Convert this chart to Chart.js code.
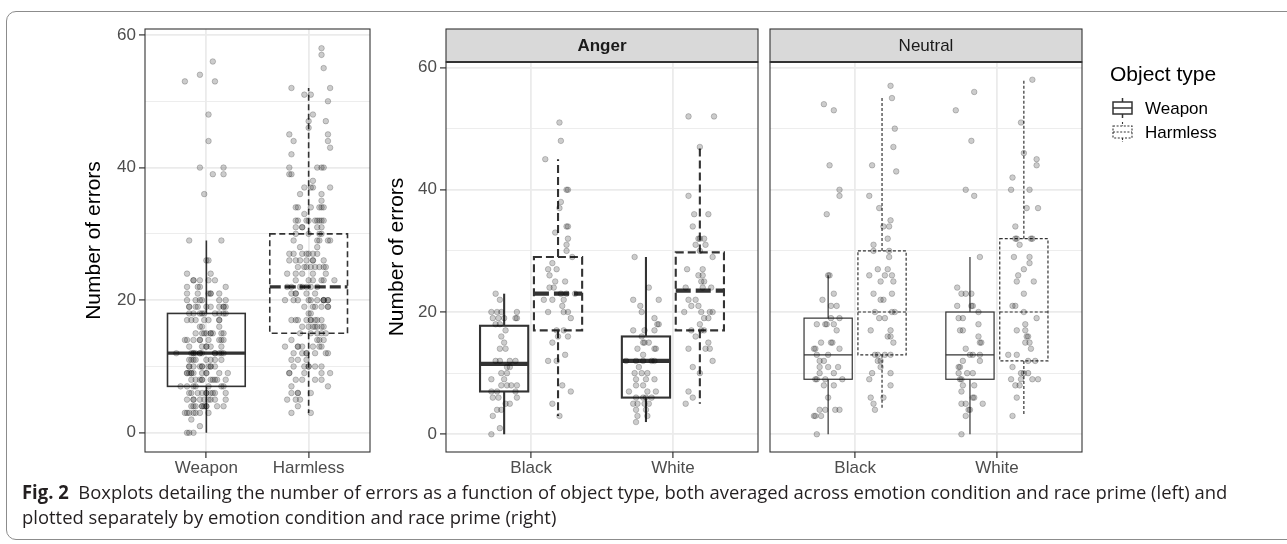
<!DOCTYPE html>
<html>
<head>
<meta charset="utf-8">
<title>Number of errors by object type</title>
<script src="https://cdn.jsdelivr.net/npm/chart.js@4.4.1/dist/chart.umd.min.js"></script>
<style>
  html, body { margin: 0; padding: 0; background: #fff; }
  body { position: relative; width: 1287px; height: 544px; overflow: hidden; }
  .frame { position: absolute; left: 6px; top: 11px; width: 1320px; height: 529px;
           border: 1px solid #8c8c8c; border-radius: 10px; box-sizing: border-box; }
  canvas { position: absolute; top: 0; }
  #caption { position: absolute; left: 22px; top: 480px; transform-origin: 0 0;
             font-family: "Open Sans", "Noto Sans", sans-serif; font-size: 19px;
             line-height: 25px; color: #231f20; white-space: nowrap; }
</style>
</head>
<body>
<div class="frame"></div>
<canvas id="pooled" width="380" height="480" style="left:0px"></canvas>
<canvas id="anger" width="384" height="480" style="left:380px"></canvas>
<canvas id="neutral" width="523" height="480" style="left:764px"></canvas>
<div id="caption">
  <div id="cap1"><b>Fig. 2</b>&nbsp; Boxplots detailing the number of errors as a function of object type, both averaged across emotion condition and race prime (left) and</div>
  <div>plotted separately by emotion condition and race prime (right)</div>
</div>
<script>
'use strict';

// categories
const objectTypes = ['Weapon', 'Harmless'];
const racePrimes = ['Black', 'White'];
const emotions = ['Anger', 'Neutral'];
const yTickValues = [0, 10, 20, 30, 40, 50, 60];

// errors per participant (read off the jittered points)
// jitter = horizontal offset of each point, in category units
const angerBlackWeapon = [23,22,20,20,20,20,19,19,19,19,19,18,18,17,16,15,14,14,12,12,12,12,11,11,10,10,9,9,8,8,8,8,7,7,7,6,6,6,5,5,4,4,3,1,0];
const angerBlackWeaponJitter = [-0.06,-0.03,-0.09,-0.05,-0.02,0.09,-0.08,-0.04,0.00,0.08,0.09,-0.06,-0.03,0.01,-0.02,0.00,-0.03,0.01,-0.06,-0.03,0.04,0.08,0.02,0.04,-0.02,0.02,-0.09,0.00,-0.02,0.02,0.05,0.09,-0.09,-0.05,0.08,-0.08,-0.04,0.09,0.01,0.04,-0.05,-0.02,-0.08,-0.03,-0.09];

const angerBlackHarmless = [51,48,45,40,40,38,37,34,34,33,32,31,29,28,27,27,25,25,24,24,23,23,23,22,22,22,21,20,20,20,19,17,17,16,16,15,13,12,12,8,7,5,3,30,26];
const angerBlackHarmlessJitter = [0.01,0.02,-0.09,0.06,0.07,0.02,0.01,0.06,0.07,-0.02,0.07,0.06,0.10,-0.04,-0.07,-0.01,0.05,-0.02,-0.06,-0.03,0.02,0.06,0.12,-0.10,-0.04,0.04,0.03,-0.07,0.04,0.07,0.09,-0.01,0.04,0.00,0.07,-0.04,0.05,-0.07,-0.01,0.03,0.09,-0.04,0.01,0.06,-0.06];

const angerWhiteWeapon = [29,24,22,22,21,20,19,18,18,17,17,17,16,15,15,15,14,14,14,13,12,12,12,12,12,11,10,10,10,9,9,9,8,8,7,7,7,6,6,6,6,5,5,5,5,4,4,3,3,2];
const angerWhiteWeaponJitter = [-0.08,0.02,-0.09,0.09,-0.04,-0.03,0.06,0.08,0.09,-0.09,-0.01,0.06,-0.03,-0.02,-0.01,0.02,-0.06,0.06,0.07,-0.02,-0.14,-0.07,-0.02,0.04,0.06,-0.05,-0.08,-0.03,0.01,-0.07,0.00,0.06,-0.07,-0.02,-0.12,0.01,0.07,-0.07,-0.02,0.00,0.04,-0.09,-0.06,-0.01,0.02,-0.07,0.00,-0.06,0.01,-0.07];

const angerWhiteHarmless = [52,52,47,39,36,36,34,32,32,32,31,31,30,29,27,27,26,26,25,25,24,24,24,22,22,21,21,20,20,20,20,19,19,18,17,17,17,16,15,14,14,14,12,11,10,7,6,5];
const angerWhiteHarmlessJitter = [-0.08,0.10,0.00,-0.08,-0.04,0.06,-0.05,-0.01,0.00,0.03,-0.03,0.04,0.00,0.09,-0.09,0.02,-0.01,0.02,0.01,0.03,-0.10,0.02,0.08,-0.08,-0.03,-0.06,-0.01,-0.11,0.01,0.07,0.09,0.03,0.06,0.00,-0.06,0.01,0.03,-0.03,0.06,-0.08,0.04,0.07,0.09,-0.05,0.00,-0.08,-0.05,-0.10];

const neutralBlackWeapon = [54,53,44,40,39,36,26,26,23,22,21,21,19,19,18,18,18,18,17,15,15,15,14,14,14,13,13,12,12,11,11,11,10,10,9,9,9,9,8,8,6,4,4,4,4,3,3,3,0];
const neutralBlackWeaponJitter = [-0.03,0.04,0.01,0.08,0.08,-0.01,0.00,0.01,0.04,-0.04,0.02,0.06,0.08,0.02,-0.08,-0.02,-0.01,0.04,0.06,-0.05,0.02,0.03,-0.10,-0.09,0.08,-0.08,0.00,-0.06,-0.03,-0.06,0.00,0.07,-0.06,0.04,-0.09,-0.08,-0.02,0.10,-0.03,0.04,0.00,-0.06,-0.02,0.05,0.08,-0.10,-0.09,-0.05,-0.08];

const neutralBlackHarmless = [57,55,50,47,44,43,39,37,35,34,34,32,31,30,30,29,27,27,26,26,26,25,25,23,23,22,22,20,20,20,19,19,17,17,16,16,15,13,13,13,13,12,12,11,10,10,9,8,6,6,5,4];
const neutralBlackHarmlessJitter = [0.06,0.07,0.09,0.08,-0.07,0.10,-0.09,-0.02,0.06,0.01,0.05,0.04,-0.06,-0.06,0.05,0.05,-0.03,0.04,-0.09,0.02,0.07,-0.01,0.08,-0.06,0.07,-0.01,0.01,-0.05,0.07,0.09,-0.02,0.02,-0.08,0.06,0.04,0.06,0.08,-0.05,-0.03,0.02,0.06,-0.03,-0.01,-0.01,-0.07,0.06,-0.09,0.06,-0.08,0.01,-0.06,-0.05];

const neutralWhiteWeapon = [56,53,48,40,39,29,24,23,23,23,21,21,21,20,19,19,18,17,17,16,15,15,14,13,13,13,12,12,11,11,10,10,10,9,9,8,8,7,6,6,5,5,5,4,4,3,0];
const neutralWhiteWeaponJitter = [0.03,-0.10,0.01,-0.03,0.03,0.07,-0.09,-0.06,-0.03,0.01,-0.09,0.01,0.02,0.06,-0.08,-0.05,0.06,-0.07,-0.05,0.06,0.07,0.08,-0.03,0.00,0.02,0.07,-0.05,0.07,-0.08,-0.07,-0.08,-0.02,0.02,-0.07,-0.06,-0.05,0.03,-0.06,0.02,0.03,-0.06,-0.03,0.09,-0.01,0.00,-0.03,-0.06];

const neutralWhiteHarmless = [58,51,46,45,44,42,40,40,37,37,34,32,32,32,32,31,29,29,28,27,26,25,25,23,21,21,20,19,18,17,17,16,16,15,15,14,13,13,12,12,11,10,10,10,9,9,9,9,8,8,6,3];
const neutralWhiteHarmlessJitter = [0.06,-0.02,0.00,0.09,0.09,-0.08,-0.09,0.04,0.02,0.10,-0.06,-0.06,-0.05,0.05,0.06,-0.03,-0.07,0.04,0.04,0.00,-0.04,-0.05,0.07,0.00,-0.08,-0.06,0.00,0.09,0.01,-0.05,0.01,0.02,0.03,0.01,0.04,0.05,-0.11,-0.05,0.03,0.08,-0.08,-0.02,0.00,0.03,-0.09,-0.02,0.06,0.10,-0.06,-0.03,-0.05,-0.08];

// box stats as drawn: [lower whisker, Q1, median, Q3, upper whisker]
const pooledWeaponBox = [0, 7, 12, 18, 29];
const pooledHarmlessBox = [3, 15, 22, 30, 52];
const angerBlackWeaponBox = [0, 7, 11.5, 17.75, 23];
const angerBlackHarmlessBox = [3, 17, 23, 29, 45];
const angerWhiteWeaponBox = [2, 6, 12, 16, 29];
const angerWhiteHarmlessBox = [5, 17, 23.5, 29.75, 47];
const neutralBlackWeaponBox = [0, 9, 13, 19, 26];
const neutralBlackHarmlessBox = [4, 13, 20, 30, 55];
const neutralWhiteWeaponBox = [0, 9, 13, 20, 29];
const neutralWhiteHarmlessBox = [3, 12, 20, 32, 58];

Chart.defaults.font.family = '"Liberation Sans", Arial, Helvetica, sans-serif';

const FONT = '"Liberation Sans", Arial, Helvetica, sans-serif';
const INK = '#333333';
const pointFill = 'rgba(0,0,0,0.2)';
const pointEdge = 'rgba(0,0,0,0.26)';

// line styles per panel
const pooledStyle = [
  { lw: 1.6, dash: [], medLw: 3.2, medDash: [] },
  { lw: 1.6, dash: [6, 3.5], medLw: 3.2, medDash: [11, 4] }
];
const angerStyle = [
  { lw: 2.1, dash: [], medLw: 4.2, medDash: [] },
  { lw: 2.1, dash: [8, 4], medLw: 4.2, medDash: [15, 5] }
];
const neutralStyle = [
  { lw: 1.2, dash: [], medLw: 1.2, medDash: [] },
  { lw: 1.2, dash: [3, 2], medLw: 1.2, medDash: [3, 2] }
];

function jittered(values, jitter, at, spread) {
  return values.map((v, i) => ({ x: at + jitter[i] * spread, y: v }));
}

function hline(ctx, x1, y1, x2, y2) {
  ctx.beginPath();
  ctx.moveTo(x1, y1);
  ctx.lineTo(x2, y2);
  ctx.stroke();
}

const boxplots = {
  id: 'boxplots',
  beforeDatasetsDraw(chart, args, opts) {
    const { ctx, chartArea, scales: { x, y } } = chart;
    ctx.save();
    ctx.beginPath();
    ctx.rect(chartArea.left, chartArea.top, chartArea.width, chartArea.height);
    ctx.clip();
    ctx.strokeStyle = INK;
    (opts.boxes || []).forEach(b => {
      const cx = x.getPixelForValue(b.at);
      const half = (x.getPixelForValue(b.at + b.width / 2) - x.getPixelForValue(b.at - b.width / 2)) / 2;
      const [lo, q1, med, q3, hi] = b.stats.map(v => y.getPixelForValue(v));
      ctx.lineWidth = b.style.lw;
      ctx.setLineDash(b.style.dash);
      hline(ctx, cx, q3, cx, hi);
      hline(ctx, cx, q1, cx, lo);
      ctx.strokeRect(cx - half, q3, half * 2, q1 - q3);
      ctx.lineWidth = b.style.medLw;
      ctx.setLineDash(b.style.medDash);
      hline(ctx, cx - half, med, cx + half, med);
    });
    ctx.restore();
  },
  afterDatasetsDraw(chart, args, opts) {
    const { ctx, chartArea: a } = chart;
    ctx.save();
    ctx.strokeStyle = INK;
    ctx.lineWidth = 1.1;
    ctx.strokeRect(a.left, a.top, a.width, a.height);

    if (opts.strip) {
      const h = 33;
      ctx.fillStyle = '#d9d9d9';
      ctx.fillRect(a.left, a.top - h, a.width, h);
      ctx.strokeRect(a.left, a.top - h, a.width, h);
      ctx.lineWidth = 2;
      hline(ctx, a.left, a.top, a.right, a.top);
      ctx.fillStyle = '#1a1a1a';
      ctx.font = (opts.strip.bold ? 'bold ' : '') + '17px ' + FONT;
      ctx.textAlign = 'center';
      ctx.textBaseline = 'middle';
      ctx.fillText(opts.strip.text, (a.left + a.right) / 2, a.top - h / 2 + 1);
    }

    if (opts.legend) {
      const x0 = a.right + 28;
      const y0 = 75;
      ctx.fillStyle = '#000';
      ctx.textAlign = 'left';
      ctx.textBaseline = 'middle';
      ctx.font = '21px ' + FONT;
      ctx.fillText(opts.legend.title, x0, y0);
      ctx.font = '17px ' + FONT;
      opts.legend.labels.forEach((name, i) => {
        const cy = y0 + 33 + i * 24;
        const ix = x0 + 3;
        const iw = 19;
        const st = opts.legend.styles[i];
        ctx.strokeStyle = INK;
        ctx.lineWidth = st.lw;
        ctx.setLineDash(st.dash);
        ctx.strokeRect(ix, cy - 6, iw, 12);
        hline(ctx, ix, cy, ix + iw, cy);
        hline(ctx, ix + iw / 2, cy - 10, ix + iw / 2, cy - 6);
        hline(ctx, ix + iw / 2, cy + 6, ix + iw / 2, cy + 10);
        ctx.setLineDash([]);
        ctx.fillText(name, x0 + 35, cy + 1);
      });
    }
    ctx.restore();
  }
};

function makePanel(id, p) {
  return new Chart(document.getElementById(id), {
    type: 'scatter',
    data: {
      datasets: p.points.map(pts => ({
        data: pts,
        pointRadius: 2.8,
        pointBackgroundColor: pointFill,
        pointBorderColor: pointEdge,
        pointBorderWidth: 0.8
      }))
    },
    options: {
      responsive: false,
      animation: false,
      events: [],
      layout: { padding: p.padding },
      plugins: {
        legend: { display: false },
        tooltip: { enabled: false },
        boxplots: { boxes: p.boxes, strip: p.strip, legend: p.legend }
      },
      scales: {
        x: {
          type: 'linear',
          min: 0.4,
          max: 2.6,
          afterBuildTicks: s => { s.ticks = [{ value: 1 }, { value: 2 }]; },
          afterFit: s => { s.height = 28; },
          ticks: {
            callback: v => p.categories[v - 1],
            color: '#4d4d4d',
            font: { size: 17 },
            padding: 0,
            maxRotation: 0,
            autoSkip: false
          },
          grid: { color: '#ebebeb', lineWidth: 1.8, tickLength: 6, tickColor: INK, tickWidth: 1.2 },
          border: { display: false }
        },
        y: {
          min: -2.9,
          max: 60.9,
          afterBuildTicks: s => { s.ticks = yTickValues.map(v => ({ value: v })); },
          afterFit: s => { s.width = p.yWidth; },
          ticks: {
            display: p.yLabels,
            callback: v => (v % 20 === 0 ? v : ''),
            color: '#4d4d4d',
            font: { size: 17 },
            padding: 3,
            autoSkip: false
          },
          grid: {
            color: '#ebebeb',
            lineWidth: c => (c.tick && c.tick.value % 20 === 0 ? 1.8 : 0.9),
            drawTicks: p.yLabels,
            tickLength: 6,
            tickWidth: 1.2,
            tickColor: c => (c.tick && c.tick.value % 20 === 0 ? INK : 'rgba(0,0,0,0)')
          },
          border: { display: false },
          title: {
            display: p.yLabels,
            text: 'Number of errors',
            color: '#000',
            font: { size: 21 },
            padding: { top: p.titleOffset, bottom: 0 }
          }
        }
      }
    },
    plugins: [boxplots]
  });
}

// left: all conditions pooled
const pooledWeapon = [
  ...jittered(angerBlackWeapon, angerBlackWeaponJitter, 1, 2.1),
  ...jittered(angerWhiteWeapon, angerWhiteWeaponJitter, 1, 2.1),
  ...jittered(neutralBlackWeapon, neutralBlackWeaponJitter, 1, 2.1),
  ...jittered(neutralWhiteWeapon, neutralWhiteWeaponJitter, 1, 2.1)
];
const pooledHarmless = [
  ...jittered(angerBlackHarmless, angerBlackHarmlessJitter, 2, 2.1),
  ...jittered(angerWhiteHarmless, angerWhiteHarmlessJitter, 2, 2.1),
  ...jittered(neutralBlackHarmless, neutralBlackHarmlessJitter, 2, 2.1),
  ...jittered(neutralWhiteHarmless, neutralWhiteHarmlessJitter, 2, 2.1)
];

makePanel('pooled', {
  categories: objectTypes,
  padding: { top: 29, right: 10, left: 0, bottom: 0 },
  yWidth: 145,
  yLabels: true,
  titleOffset: 82,
  points: [pooledWeapon, pooledHarmless],
  boxes: [
    { at: 1, width: 0.76, stats: pooledWeaponBox, style: pooledStyle[0] },
    { at: 2, width: 0.76, stats: pooledHarmlessBox, style: pooledStyle[1] }
  ]
});

const DODGE = 0.19;
const BOXW = 0.34;

makePanel('anger', {
  categories: racePrimes,
  padding: { top: 62, right: 6, left: 0, bottom: 0 },
  yWidth: 66,
  yLabels: true,
  titleOffset: 5,
  strip: { text: emotions[0], bold: true },
  points: [
    jittered(angerBlackWeapon, angerBlackWeaponJitter, 1 - DODGE, 1),
    jittered(angerBlackHarmless, angerBlackHarmlessJitter, 1 + DODGE, 1),
    jittered(angerWhiteWeapon, angerWhiteWeaponJitter, 2 - DODGE, 1),
    jittered(angerWhiteHarmless, angerWhiteHarmlessJitter, 2 + DODGE, 1)
  ],
  boxes: [
    { at: 1 - DODGE, width: BOXW, stats: angerBlackWeaponBox, style: angerStyle[0] },
    { at: 1 + DODGE, width: BOXW, stats: angerBlackHarmlessBox, style: angerStyle[1] },
    { at: 2 - DODGE, width: BOXW, stats: angerWhiteWeaponBox, style: angerStyle[0] },
    { at: 2 + DODGE, width: BOXW, stats: angerWhiteHarmlessBox, style: angerStyle[1] }
  ]
});

makePanel('neutral', {
  categories: racePrimes,
  padding: { top: 62, right: 205, left: 6, bottom: 0 },
  yWidth: 0,
  yLabels: false,
  titleOffset: 0,
  strip: { text: emotions[1], bold: false },
  legend: { title: 'Object type', labels: objectTypes, styles: [
    { lw: 1.5, dash: [] },
    { lw: 1.1, dash: [2, 1.6] }
  ] },
  points: [
    jittered(neutralBlackWeapon, neutralBlackWeaponJitter, 1 - DODGE, 1),
    jittered(neutralBlackHarmless, neutralBlackHarmlessJitter, 1 + DODGE, 1),
    jittered(neutralWhiteWeapon, neutralWhiteWeaponJitter, 2 - DODGE, 1),
    jittered(neutralWhiteHarmless, neutralWhiteHarmlessJitter, 2 + DODGE, 1)
  ],
  boxes: [
    { at: 1 - DODGE, width: BOXW, stats: neutralBlackWeaponBox, style: neutralStyle[0] },
    { at: 1 + DODGE, width: BOXW, stats: neutralBlackHarmlessBox, style: neutralStyle[1] },
    { at: 2 - DODGE, width: BOXW, stats: neutralWhiteWeaponBox, style: neutralStyle[0] },
    { at: 2 + DODGE, width: BOXW, stats: neutralWhiteHarmlessBox, style: neutralStyle[1] }
  ]
});

// caption set in a narrow face in the original; squeeze it to the same line length
function fitCaption() {
  const w = document.getElementById('cap1').scrollWidth;
  document.getElementById('caption').style.transform = 'scaleX(' + (1205 / w) + ')';
}
fitCaption();
if (document.fonts) document.fonts.ready.then(fitCaption);
</script>
</body>
</html>
